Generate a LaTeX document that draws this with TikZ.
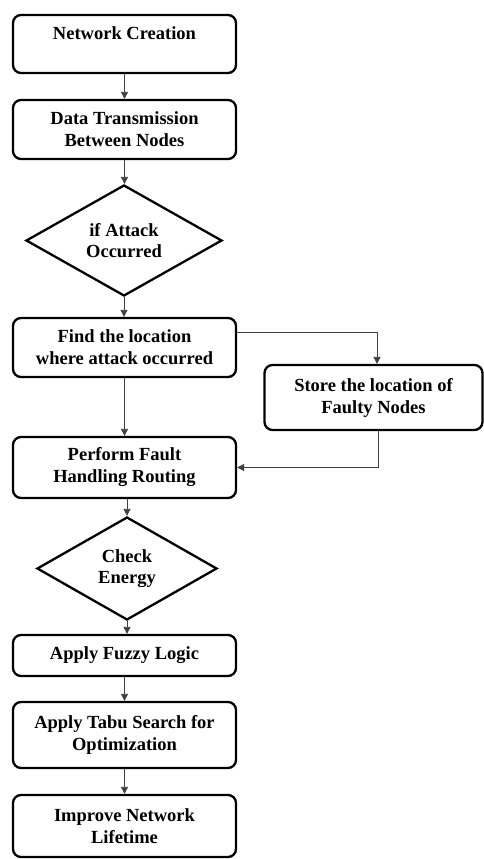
\documentclass[tikz,border=0pt]{standalone}
\usepackage{fontspec}
\setmainfont{Liberation Serif}
\usetikzlibrary{shapes.geometric,arrows.meta}
\tikzset{
  box/.style={draw=black, line width=2.3pt, rounded corners=8pt, rectangle,
    minimum width=223pt, align=center, inner sep=2pt,
    font=\bfseries\fontsize{18.5}{22}\selectfont},
  dec/.style={draw=black, line width=2.3pt, diamond, align=center, inner sep=0pt,
    font=\bfseries\fontsize{18.5}{21}\selectfont},
  conn/.style={draw=black!75, line width=0.8pt, -{Triangle[length=7pt,width=7pt]}}
}
\begin{document}
\begin{tikzpicture}[x=1pt,y=-1pt]
\useasboundingbox (0,0) rectangle (483,859);
\node[box, minimum height=58pt] (b1) at (124.5,44) {Network Creation\\\mbox{}};
\node[box, minimum height=59pt] (b2) at (124.5,129.5) {Data Transmission\\Between Nodes};
\node[dec, minimum width=196pt, minimum height=111pt] (d1) at (124,240.5) {if Attack\\Occurred};
\node[box, minimum height=59pt] (b3) at (124.5,347.5) {Find the location\\where attack occurred};
\node[box, minimum height=65pt, minimum width=218pt] (b4) at (373.5,397.5) {Store the location of\\Faulty Nodes};
\node[box, minimum height=61pt] (b5) at (124.5,467.5) {Perform Fault\\Handling Routing};
\node[dec, minimum width=180pt, minimum height=103pt] (d2) at (127,568.5) {Check\\Energy};
\node[box, minimum height=41pt] (b6) at (124.5,655.5) {Apply Fuzzy Logic};
\node[box, minimum height=66pt] (b7) at (124.5,735) {Apply Tabu Search for\\Optimization};
\node[box, minimum height=62pt] (b8) at (124.5,826) {Improve Network\\Lifetime};

\draw[conn] (b1) -- (b2);
\draw[conn] (b2) -- (b2 |- d1.north);
\draw[conn] (d1) -- (d1 |- b3.north);
\draw[conn] (b3) -- (b5);
\draw[conn] (b5.south -| d2.north) -- (d2.north);
\draw[conn] (d2.south) -- (d2.south |- b6.north);
\draw[conn] (b6) -- (b7);
\draw[conn] (b7) -- (b8);
\draw[conn] ([yshift=15.5pt]b3.east) -| ([xshift=3.5pt]b4.north);
\draw[conn] ([xshift=4.5pt]b4.south) |- (b5.east);
\end{tikzpicture}
\end{document}
